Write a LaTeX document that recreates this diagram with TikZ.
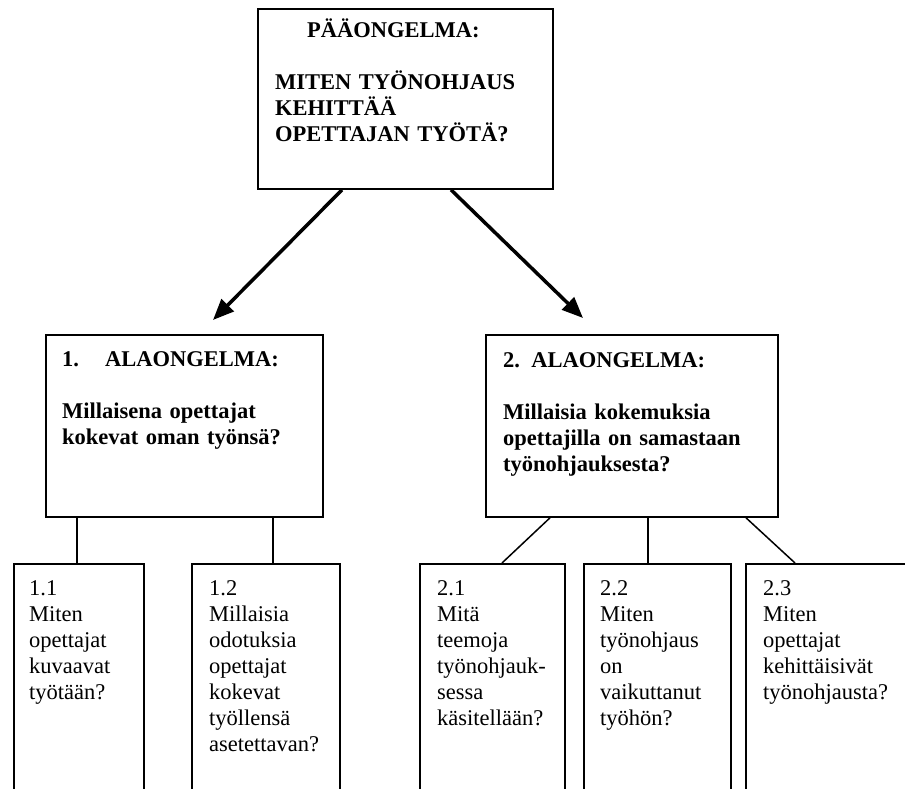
\documentclass[tikz,border=0pt]{standalone}
\usepackage{fontspec}
\setmainfont{Liberation Serif}
\usetikzlibrary{arrows.meta}

\begin{document}
\begin{tikzpicture}[x=1pt,y=-1pt,
  box/.style={draw,line width=1.8pt,anchor=north west,inner sep=0pt},
  txt/.style={anchor=base west,inner sep=0pt,align=left,text width=#1,
    font=\fontsize{22.5}{26}\selectfont},
  link/.style={line width=1.5pt},
  bigarrow/.style={line width=3.5pt,-{Triangle[length=21pt,width=17pt]}}]
  \useasboundingbox (0,0) rectangle (905,789);
  \clip (0,0) rectangle (905,789);
  \node[box,minimum width=295pt,minimum height=180pt] (paa) at (257,8) {};
  \node[txt=265pt] (paa-t) at ([shift={(18,30)}]paa.north west)
    {\textbf{\hspace*{32pt}PÄÄONGELMA:\\[26pt]MITEN TYÖNOHJAUS\\KEHITTÄÄ\\OPETTAJAN TYÖTÄ?}};
  \node[box,minimum width=277pt,minimum height=182pt] (ala1) at (45,334) {};
  \node[txt=255pt] (ala1-t) at ([shift={(17,32)}]ala1.north west)
    {\textbf{\makebox[43pt][l]{1.}ALAONGELMA:\\[26pt]Millaisena opettajat\\kokevat oman työnsä?}};
  \node[box,minimum width=292pt,minimum height=182pt] (ala2) at (485,334) {};
  \node[txt=270pt] (ala2-t) at ([shift={(18,33)}]ala2.north west)
    {\textbf{2. ALAONGELMA:\\[26pt]Millaisia kokemuksia\\opettajilla on samastaan\\työnohjauksesta?}};
  \node[box,minimum width=130pt,minimum height=240pt] (k11) at (13,563) {};
  \node[txt=120pt] (k11-t) at ([shift={(16,32)}]k11.north west)
    {1.1\\Miten\\opettajat\\kuvaavat\\työtään?};
  \node[box,minimum width=148pt,minimum height=240pt] (k12) at (191,563) {};
  \node[txt=135pt] (k12-t) at ([shift={(18,32)}]k12.north west)
    {1.2\\Millaisia\\odotuksia\\opettajat\\kokevat\\työllensä\\asetettavan?};
  \node[box,minimum width=145pt,minimum height=240pt] (k21) at (419,563) {};
  \node[txt=130pt] (k21-t) at ([shift={(18,32)}]k21.north west)
    {2.1\\Mitä\\teemoja\\työnohjauk-\\sessa\\käsitellään?};
  \node[box,minimum width=147pt,minimum height=240pt] (k22) at (583,563) {};
  \node[txt=130pt] (k22-t) at ([shift={(17,32)}]k22.north west)
    {2.2\\Miten\\työnohjaus\\on\\vaikuttanut\\työhön?};
  \node[box,minimum width=180pt,minimum height=240pt] (k23) at (745,563) {};
  \node[txt=150pt] (k23-t) at ([shift={(18,32)}]k23.north west)
    {2.3\\Miten\\opettajat\\kehittäisivät\\työnohjausta?};
  \coordinate (karki1) at (213,320);
  \coordinate (karki2) at (583,318);
  \draw[bigarrow] ([xshift=85pt]paa.south west) -- (karki1);
  \draw[bigarrow] ([xshift=194pt]paa.south west) -- (karki2);
  \draw[link] ([xshift=32pt]ala1.south west) -- ([xshift=64pt]k11.north west);
  \draw[link] ([xshift=228pt]ala1.south west) -- ([xshift=82pt]k12.north west);
  \draw[link] ([xshift=65pt]ala2.south west) -- ([xshift=83pt]k21.north west);
  \draw[link] ([xshift=163pt]ala2.south west) -- ([xshift=65pt]k22.north west);
  \draw[link] ([xshift=261pt]ala2.south west) -- ([xshift=50pt]k23.north west);
\end{tikzpicture}
\end{document}
